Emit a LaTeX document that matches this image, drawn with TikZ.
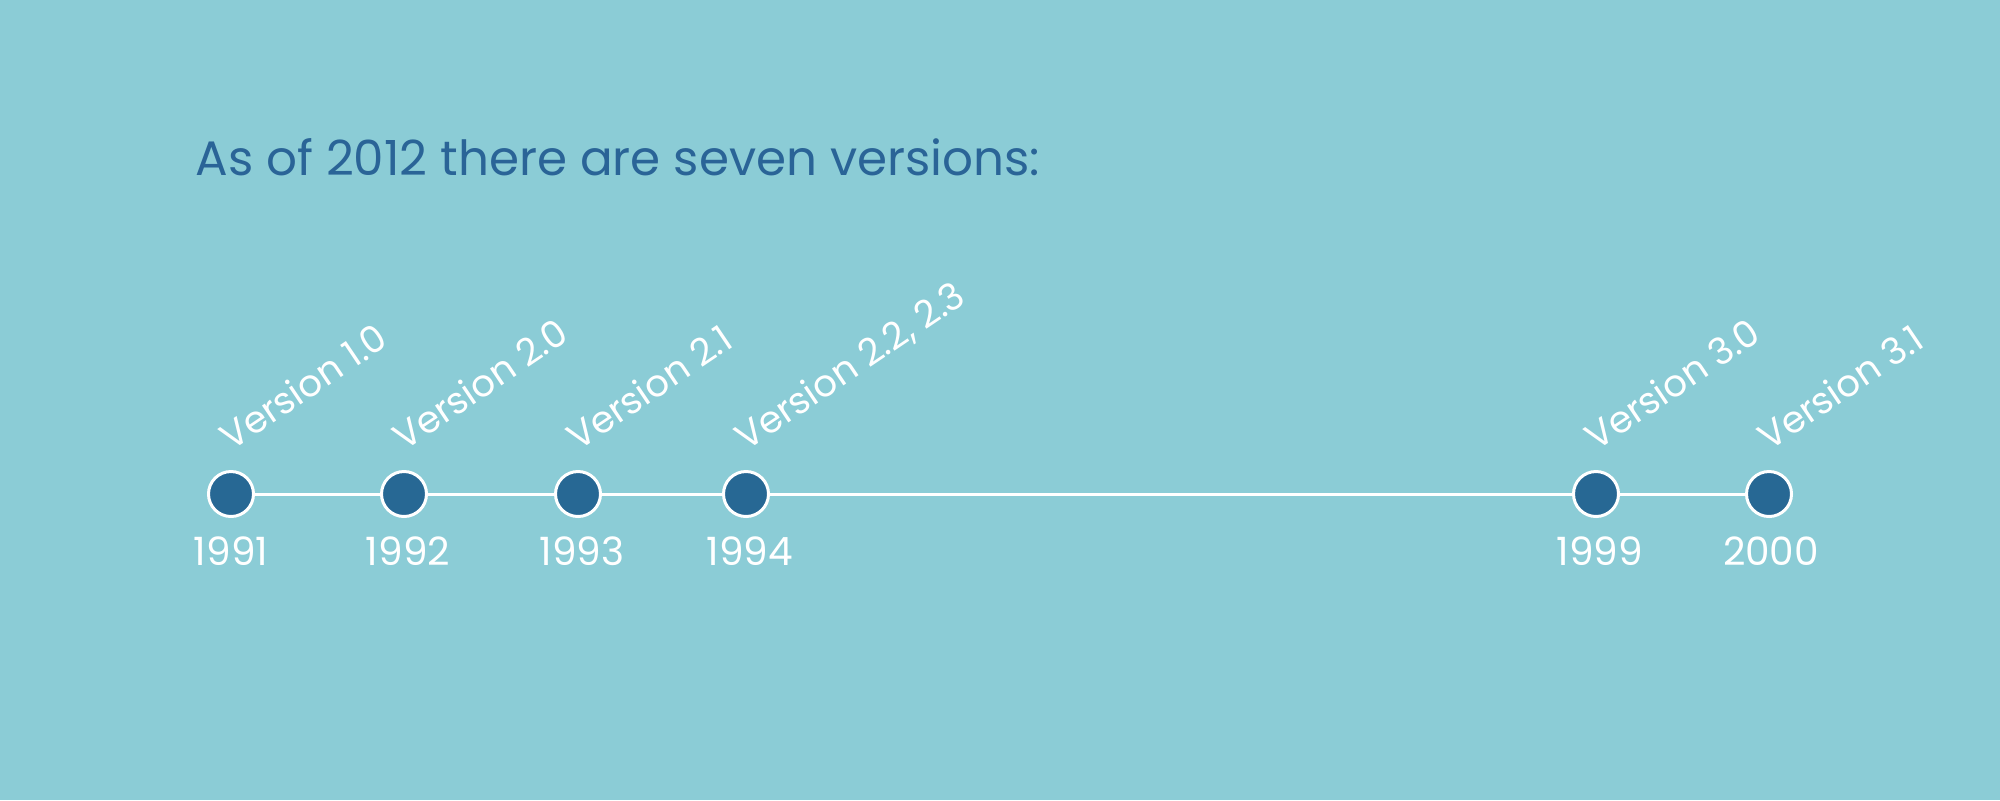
\documentclass[tikz,border=0pt]{standalone}
\usepackage{fontspec}
\setmainfont{Poppins}
\definecolor{bg}{HTML}{8BCCD6}
\definecolor{dark}{HTML}{276894}
\definecolor{titleblue}{HTML}{2A6497}
\begin{document}
\begin{tikzpicture}[x=0.5pt,y=-0.5pt,
  dot/.style={circle,fill=dark,draw=white,line width=1.5pt,minimum size=22.5pt,inner sep=0pt},
  year/.style={anchor=base,text=white,font=\fontsize{19.5}{22}\selectfont,inner sep=0pt},
  ver/.style={anchor=base west,text=white,rotate=34,font=\fontsize{18.6}{22}\selectfont,inner sep=0pt},
  tline/.style={white,line width=1.5pt}]
\fill[bg] (0,0) rectangle (2000,800);
\useasboundingbox (0,0) rectangle (2000,800);
\node[anchor=base west,text=titleblue,font=\fontsize{24.2}{28}\selectfont,inner sep=0pt] (title) at (195,175) {As of 2012 there are seven versions:};
\foreach \n/\x in {1/231,2/404,3/578,4/746,5/1596,6/1769}{
  \coordinate (c\n) at (\x,494);
}
\draw[tline] (c1) -- (c6);
\foreach \n/\yr/\yx in {1/1991/231,2/1992/408,3/1993/582,4/1994/750,5/1999/1600,6/2000/1771}{
  \node[dot] (d\n) at (c\n) {};
  \node[year] (y\n) at (\yx,565) {\yr};
}
\node[ver] (v1) at ([xshift=0pt,yshift=21pt]c1) {Version 1.0};
\node[ver] (v2) at ([xshift=0pt,yshift=21pt]c2) {Version 2.0};
\node[ver] (v3) at ([xshift=0pt,yshift=21pt]c3) {Version 2.1};
\node[ver] (v4) at ([xshift=0pt,yshift=21pt]c4) {Version 2.2, 2.3};
\node[ver] (v5) at ([xshift=0pt,yshift=21pt]c5) {Version 3.0};
\node[ver] (v6) at ([xshift=0pt,yshift=21pt]c6) {Version 3.1};
\end{tikzpicture}
\end{document}
